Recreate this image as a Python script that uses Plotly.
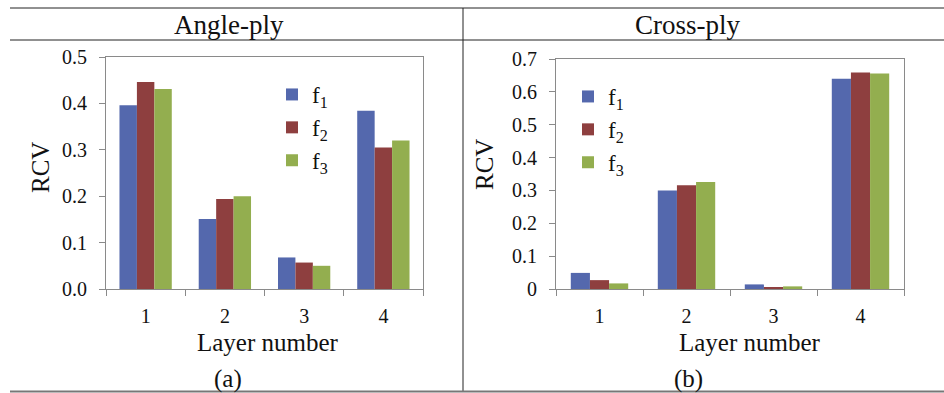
import plotly.graph_objects as go

layers = ["1", "2", "3", "4"]
series_names = ["f<sub>1</sub>", "f<sub>2</sub>", "f<sub>3</sub>"]
colors = ["#5468AD", "#8E3F3F", "#93AE4F"]

angle_f1 = [0.396, 0.151, 0.068, 0.384]
angle_f2 = [0.446, 0.194, 0.057, 0.305]
angle_f3 = [0.431, 0.200, 0.050, 0.320]

cross_f1 = [0.049, 0.300, 0.014, 0.640]
cross_f2 = [0.027, 0.316, 0.005, 0.659]
cross_f3 = [0.017, 0.326, 0.008, 0.656]

panel_titles = ["Angle-ply", "Cross-ply"]
panel_labels = ["(a)", "(b)"]

W, H = 944, 393
def px(x):
    return x / W
def py(y):
    return 1 - y / H

FONT = "Liberation Serif, Times New Roman, serif"
fig = go.Figure()

for i, vals in enumerate([angle_f1, angle_f2, angle_f3]):
    fig.add_trace(go.Bar(x=layers, y=vals, name=series_names[i], marker_color=colors[i],
                         marker_line_width=0, xaxis="x", yaxis="y", legend="legend"))
for i, vals in enumerate([cross_f1, cross_f2, cross_f3]):
    fig.add_trace(go.Bar(x=layers, y=vals, name=series_names[i], marker_color=colors[i],
                         marker_line_width=0, xaxis="x2", yaxis="y2", legend="legend2"))

axis_common = dict(showline=True, mirror=True, linecolor="#8a8a8a", linewidth=1,
                   ticks="outside", ticklen=6, tickcolor="#8a8a8a", showgrid=False,
                   zeroline=False, automargin=False,
                   tickfont=dict(family=FONT, size=20, color="#111"))
xaxis_extra = dict(type="category", tickson="boundaries", ticklabelstandoff=9)
yaxis_extra = dict(dtick=0.1, ticklabelstandoff=8)

fig.update_layout(
    template="none",
    width=W, height=H, margin=dict(l=0, r=0, t=0, b=0, pad=0, autoexpand=False),
    paper_bgcolor="white", plot_bgcolor="white",
    barmode="group", bargap=0.34, bargroupgap=0,
    font=dict(family=FONT, color="#111"),
    xaxis=dict(domain=[px(106), px(423)], anchor="y", **xaxis_extra, **axis_common),
    yaxis=dict(domain=[py(289), py(57)], anchor="x", range=[0, 0.5], tickformat=".1f", **yaxis_extra, **axis_common),
    xaxis2=dict(domain=[px(556), px(904)], anchor="y2", **xaxis_extra, **axis_common),
    yaxis2=dict(domain=[py(289), py(59)], anchor="x2", range=[0, 0.7], **yaxis_extra, **axis_common),
    legend=dict(x=px(272), y=py(73), xanchor="left", yanchor="top", bgcolor="rgba(0,0,0,0)",
                font=dict(family=FONT, size=23, color="#111"), itemwidth=30, tracegroupgap=0),
    legend2=dict(x=px(568), y=py(75), xanchor="left", yanchor="top", bgcolor="rgba(0,0,0,0)",
                 font=dict(family=FONT, size=23, color="#111"), itemwidth=30, tracegroupgap=0),
)

# table lines
line = dict(color="#222", width=1)
shapes = [
    dict(type="line", xref="paper", yref="paper", x0=px(10), x1=1, y0=py(8), y1=py(8), line=line),
    dict(type="line", xref="paper", yref="paper", x0=px(10), x1=1, y0=py(40), y1=py(40), line=line),
    dict(type="line", xref="paper", yref="paper", x0=px(463), x1=px(463), y0=py(8), y1=py(391), line=line),
    dict(type="line", xref="paper", yref="paper", x0=px(10), x1=1, y0=py(391.5), y1=py(391.5),
         line=dict(color="#777", width=2)),
]
fig.update_layout(shapes=shapes)

ann = []
for title, xc in zip(panel_titles, [229, 688]):
    ann.append(dict(text=title, x=px(xc), y=py(25), xref="paper", yref="paper", showarrow=False,
                    xanchor="center", yanchor="middle", font=dict(family=FONT, size=27, color="#111")))
for lab, xc in zip(panel_labels, [228, 688]):
    ann.append(dict(text=lab, x=px(xc), y=py(379), xref="paper", yref="paper", showarrow=False,
                    xanchor="center", yanchor="middle", font=dict(family=FONT, size=25, color="#111")))
for xc in [268, 750]:
    ann.append(dict(text="Layer number", x=px(xc), y=py(342), xref="paper", yref="paper", showarrow=False,
                    xanchor="center", yanchor="middle", font=dict(family=FONT, size=25, color="#111")))
for xc, yc in [(40, 168), (485, 165)]:
    ann.append(dict(text="RCV", x=px(xc), y=py(yc), xref="paper", yref="paper", showarrow=False,
                    textangle=-90, xanchor="center", yanchor="middle", font=dict(family=FONT, size=25, color="#111")))
fig.update_layout(annotations=ann)

fig.write_html("out.html")
